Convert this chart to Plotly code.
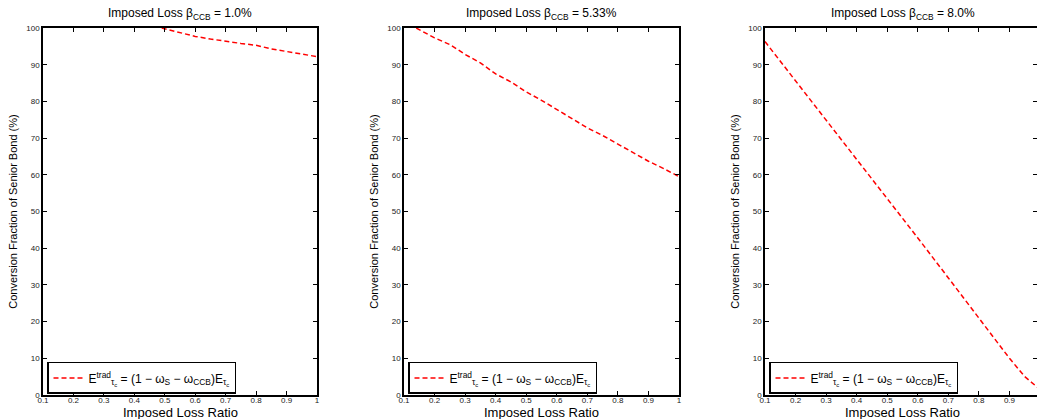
import plotly.graph_objects as go

# Conversion fraction of the senior bond vs. imposed loss ratio, for three CCB loss levels
beta_labels = ["1.0%", "5.33%", "8.0%"]

ratio_1 = [0.49, 0.55, 0.60, 0.65, 0.70, 0.75, 0.80, 0.85, 0.90, 0.95, 1.00]
conv_1 = [100.0, 98.8, 97.7, 97.0, 96.3, 95.8, 95.3, 94.3, 93.6, 92.9, 92.2]

ratio_2 = [0.14, 0.20, 0.25, 0.30, 0.35, 0.40, 0.45, 0.50, 0.55, 0.60,
           0.65, 0.70, 0.75, 0.80, 0.85, 0.90, 0.95, 1.00]
conv_2 = [100.0, 97.3, 95.5, 92.8, 90.5, 87.5, 85.3, 82.6, 80.3, 77.8,
          75.5, 72.8, 70.7, 68.3, 66.0, 63.7, 61.7, 59.5]

ratio_3 = [0.10, 0.20, 0.30, 0.40, 0.50, 0.60, 0.70, 0.80, 0.85, 0.90, 0.95, 0.97, 1.00]
conv_3 = [96.3, 85.6, 75.0, 64.4, 53.6, 42.8, 31.9, 20.9, 15.3, 10.0, 5.0, 3.5, 1.5]

x_ticks = [0.1, 0.2, 0.3, 0.4, 0.5, 0.6, 0.7, 0.8, 0.9, 1.0]
x_tick_text = ["0.1", "0.2", "0.3", "0.4", "0.5", "0.6", "0.7", "0.8", "0.9", "1"]
y_ticks = [0, 10, 20, 30, 40, 50, 60, 70, 80, 90, 100]

legend_name = ("E<sup>trad</sup><sub>τ<sub>c</sub></sub> = (1 − ω<sub>S</sub> − "
               "ω<sub>CCB</sub>)E<sub>τ<sub>c</sub></sub>")

W, H = 1037, 419
FONT = "Liberation Sans, Arial, Helvetica, sans-serif"

# pixel extents of each axes box
x_px = [(43, 317), (404, 679), (765, 1037)]
x_ranges = [[0.1, 1.0], [0.1, 1.0], [0.1, 0.1 + (1037 - 765) / 305.6]]
# horizontal centre of each full axes box (the last one runs past the page edge)
x_centres = [180, 541.5, 902.5]

series = [(ratio_1, conv_1), (ratio_2, conv_2), (ratio_3, conv_3)]

fig = go.Figure()
layout = dict(
    width=W, height=H,
    margin=dict(l=0, r=0, t=28, b=24),
    paper_bgcolor="white", plot_bgcolor="white",
    font=dict(family=FONT, color="black"),
    showlegend=True,
    annotations=[],
)

for i, ((xs, ys), (px0, px1), xr, xc, lab) in enumerate(
        zip(series, x_px, x_ranges, x_centres, beta_labels)):
    n = "" if i == 0 else str(i + 1)
    leg = "legend" if i == 0 else f"legend{i + 1}"
    fig.add_trace(go.Scatter(
        x=xs, y=ys, mode="lines",
        line=dict(color="#ff0000", width=1.5, dash="5px,3px"),
        name=legend_name, xaxis=f"x{n}", yaxis=f"y{n}", legend=leg,
    ))
    dom = [px0 / W, px1 / W]
    layout[f"xaxis{n}"] = dict(
        domain=dom, range=xr, anchor=f"y{n}",
        tickvals=x_ticks, ticktext=x_tick_text,
        ticks="inside", ticklen=4, tickwidth=1, tickcolor="black",
        showline=True, linecolor="black", linewidth=1.5, mirror="ticks",
        showgrid=False, zeroline=False,
        tickfont=dict(size=8, color="#222"),
        ticklabelstandoff=-3,
        automargin=False,
    )
    layout[f"yaxis{n}"] = dict(
        domain=[0, 1], range=[0, 100], anchor=f"x{n}",
        tickvals=y_ticks,
        ticks="inside", ticklen=4, tickwidth=1, tickcolor="black",
        showline=True, linecolor="black", linewidth=1.5, mirror="ticks",
        showgrid=False, zeroline=False,
        tickfont=dict(size=8, color="#222"),
        title=dict(text="Conversion Fraction of Senior Bond (%)", font=dict(size=11), standoff=6),
        automargin=False,
    )
    layout[leg] = dict(
        x=(px0 + 4) / W, xanchor="left", xref="paper",
        y=0.003, yanchor="bottom", yref="paper",
        bgcolor="white", bordercolor="black", borderwidth=1.5,
        font=dict(size=12, family=FONT, color="black"),
        itemwidth=30, tracegroupgap=0,
    )
    layout["annotations"].append(dict(
        text=f"Imposed Loss β<sub>CCB</sub> = {lab}",
        x=xc / W, y=1, xref="paper", yref="paper",
        xanchor="center", yanchor="bottom", yshift=4,
        showarrow=False, font=dict(size=12, family=FONT, color="black"),
    ))
    # x-axis title, set just below the tick labels
    layout["annotations"].append(dict(
        text="Imposed Loss Ratio",
        x=xc / W, y=0, xref="paper", yref="paper",
        xanchor="center", yanchor="middle", yshift=-17,
        showarrow=False, font=dict(size=13, family=FONT, color="black"),
    ))

fig.update_layout(**layout)
fig.write_html("out.html")
